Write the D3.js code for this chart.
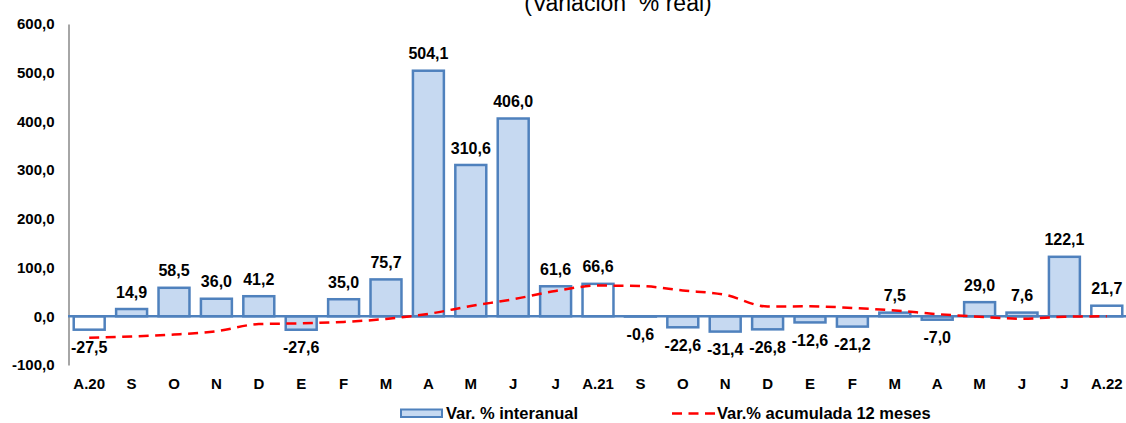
<!DOCTYPE html>
<html><head><meta charset="utf-8">
<script src="https://cdn.jsdelivr.net/npm/d3@7"></script>
<style>body{margin:0;background:#fff}svg{display:block}</style>
</head><body>
<svg id="c" width="1126" height="423"></svg>
<script>
const categories = ["A.20","S","O","N","D","E","F","M","A","M","J","J","A.21","S","O","N","D","E","F","M","A","M","J","J","A.22"];
const interanual = [-27.5,14.9,58.5,36.0,41.2,-27.6,35.0,75.7,504.1,310.6,406.0,61.6,66.6,-0.6,-22.6,-31.4,-26.8,-12.6,-21.2,7.5,-7.0,29.0,7.6,122.1,21.7];
const acumulada = [-44,-41.5,-37.5,-30.7,-16,-14.5,-11.5,-5.5,5,21,35,52,63,62,53,44,20,20.5,17,12,4.5,-1,-5,-1,0];
const highlighted = ["A.20","A.21","A.22"];
const yTicks = [-100,0,100,200,300,400,500,600];
const title = "(Variación  % real)";
const legendLabels = ["Var. % interanual","Var.% acumulada 12 meses"];

const svg = d3.select("#c");
const font = "'Liberation Sans', Arial, sans-serif";
const blue = "#4f81bd", fill = "#c6d9f1", red = "#ff0000";
const loc = d3.formatLocale({decimal:",", thousands:".", grouping:[3], currency:["",""], minus:"-"});
const fmt = loc.format(".1f");

const idx = categories.map((d,i)=>i);
const x = d3.scaleBand().domain(idx).range([68, 1128]).paddingInner(0.27).paddingOuter(0.135);
const y = d3.scaleLinear().domain([-100, 600]).range([365, 24]);

// title
svg.append("text").attr("x", 618).attr("y", 11).attr("text-anchor","middle")
  .style("white-space","pre")
  .attr("font-family", font).attr("font-size", 23).attr("fill","#000").text(title);

// y axis
const yAxis = d3.axisLeft(y).tickValues(yTicks).tickSize(0).tickPadding(14).tickFormat(fmt);
const gy = svg.append("g").attr("transform","translate(68.5,0)").call(yAxis);
gy.select(".domain").attr("stroke","#888").attr("stroke-width",1.5);
gy.selectAll("text").attr("font-family",font).attr("font-size",15).attr("font-weight","bold").attr("fill","#000");

// bars
svg.append("g").selectAll("rect").data(interanual).join("rect")
  .attr("x",(d,i)=>x(i)).attr("width",x.bandwidth())
  .attr("y",d=>y(Math.max(0,d))).attr("height",d=>Math.abs(y(d)-y(0)))
  .attr("fill",(d,i)=>highlighted.includes(categories[i])?"#fff":fill)
  .attr("stroke",blue).attr("stroke-width",2.5);

// x axis (zero line)
const xAxis = d3.axisBottom(x).tickSize(0).tickFormat(i=>categories[i]);
const gx = svg.append("g").attr("transform",`translate(0,${y(0)})`).call(xAxis);
gx.select(".domain").attr("stroke",blue).attr("stroke-width",2.5).attr("d","M68,0H1126");
gx.selectAll("text").attr("y", y(-100)-y(0)+19).attr("dy","0.32em")
  .attr("font-family",font).attr("font-size",15).attr("font-weight","bold").attr("fill","#000");

// line
const line = d3.line().x((d,i)=>x(i)+x.bandwidth()/2).y(d=>y(d)).curve(d3.curveMonotoneX);
svg.append("path").datum(acumulada).attr("d",line).attr("fill","none")
  .attr("stroke",red).attr("stroke-width",2.5).attr("stroke-dasharray","10,6.5");

// data labels
svg.append("g").selectAll("text").data(interanual).join("text")
  .attr("x",(d,i)=>x(i)+x.bandwidth()/2)
  .attr("y",d=> d>=0 ? y(d)-17 : y(d)+18).attr("dy","0.35em")
  .attr("text-anchor","middle").attr("font-family",font).attr("font-size",16).attr("font-weight","bold")
  .attr("fill","#000").text(d=>fmt(d));

// legend
const ly = 413.5;
const lg = svg.append("g");
lg.append("rect").attr("x",401).attr("y",ly-4).attr("width",41).attr("height",7.5)
  .attr("fill",fill).attr("stroke",blue).attr("stroke-width",2);
lg.append("text").attr("x",446).attr("y",ly).attr("dy","0.35em").attr("font-family",font)
  .attr("font-size",16.5).attr("font-weight","bold").text(legendLabels[0]);
lg.append("line").attr("x1",672).attr("x2",715).attr("y1",ly).attr("y2",ly)
  .attr("stroke",red).attr("stroke-width",2.5).attr("stroke-dasharray","10,6.5");
lg.append("text").attr("x",717).attr("y",ly).attr("dy","0.35em").attr("font-family",font)
  .attr("font-size",16.5).attr("font-weight","bold").text(legendLabels[1]);
</script>
</body></html>
